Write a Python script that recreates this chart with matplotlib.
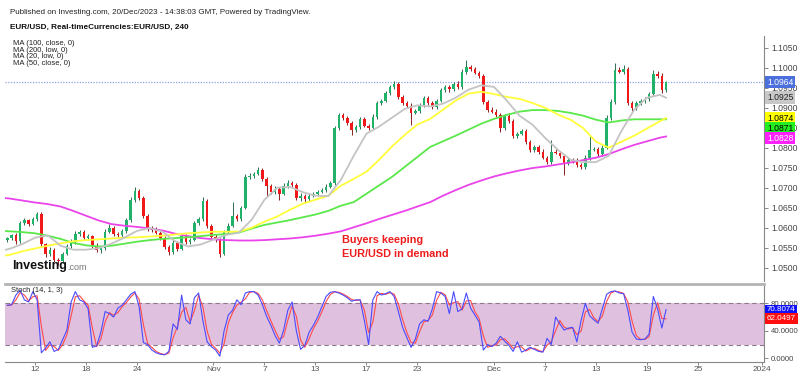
import numpy as np
import pandas as pd
import matplotlib
matplotlib.use("Agg")
import matplotlib.pyplot as plt
from matplotlib.transforms import blended_transform_factory

plt.rcParams['font.family'] = ['Liberation Sans', 'DejaVu Sans']

W, H = 800, 376

# --- data: 8h candles, x = trading days counted from Oct 12 00:00 ---
first_open = 1.0570
closes = [1.0574,
          1.0581, 1.0566, 1.0612,   # Oct 10
          1.0619, 1.0610, 1.0622,   # Oct 11
          1.0635, 1.0560, 1.0535,   # Oct 12
          1.0545, 1.0520, 1.0518,   # Oct 13
          1.0535, 1.0555, 1.0565,   # Oct 16
          1.0585, 1.0590, 1.0575,
          1.0580, 1.0555, 1.0545,
          1.0550, 1.0590, 1.0600,
          1.0585, 1.0582, 1.0592,
          1.0620, 1.0670, 1.0692,   # Oct 23
          1.0675, 1.0630, 1.0600,
          1.0595, 1.0588, 1.0575,
          1.0552, 1.0540, 1.0562,
          1.0548, 1.0580, 1.0565,
          1.0570, 1.0612, 1.0622,   # Oct 30
          1.0668, 1.0605, 1.0578,
          1.0570, 1.0535, 1.0590,   # Nov 1
          1.0605, 1.0630, 1.0622,
          1.0650, 1.0728, 1.0730,
          1.0735, 1.0745, 1.0722,   # Nov 6
          1.0705, 1.0690, 1.0698,
          1.0685, 1.0705, 1.0712,
          1.0708, 1.0675, 1.0680,
          1.0672, 1.0680, 1.0685,
          1.0690, 1.0695, 1.0703,   # Nov 13
          1.0712, 1.0850, 1.0882,
          1.0875, 1.0862, 1.0845,
          1.0852, 1.0872, 1.0855,
          1.0850, 1.0878, 1.0912,
          1.0918, 1.0938, 1.0952,   # Nov 20
          1.0960, 1.0928, 1.0912,
          1.0905, 1.0888, 1.0892,
          1.0907, 1.0925, 1.0912,
          1.0903, 1.0918, 1.0944,
          1.0952, 1.0946, 1.0960,   # Nov 27
          1.0952, 1.0990, 1.1002,
          1.0998, 1.0988, 1.0980,
          1.0915, 1.0895, 1.0890,
          1.0882, 1.0850, 1.0880,   # Dec 1
          1.0868, 1.0830, 1.0835,   # Dec 4
          1.0842, 1.0815, 1.0795,
          1.0802, 1.0790, 1.0775,
          1.0765, 1.0790, 1.0788,
          1.0780, 1.0762, 1.0770,
          1.0768, 1.0758, 1.0752,   # Dec 11
          1.0775, 1.0795, 1.0798,
          1.0785, 1.0800, 1.0875,
          1.0915, 1.0995, 1.0990,
          1.0998, 1.0912, 1.0900,
          1.0912, 1.0918, 1.0922,   # Dec 18
          1.0935, 1.0985, 1.0980,
          1.0944, 1.0964]           # Dec 20

# wick lengths in pips above / below the body
wick_up = [4,
           3, 5, 6, 5, 4, 6, 5, 4, 3, 6, 4, 5, 4, 5, 6, 8, 5, 4, 5, 3, 6,
           4, 8, 10, 5, 4, 6, 5, 8, 10, 6, 4, 5, 5, 6, 4, 4, 6, 8, 5, 7, 4,
           5, 6, 5, 8, 5, 4, 6, 4, 5, 6, 35, 5, 5, 6, 8, 5, 6, 4, 4, 5, 6,
           5, 6, 8, 5, 4, 6, 5, 4, 5, 4, 5, 6, 5, 4, 6, 5, 4, 5, 4, 5, 6,
           5, 6, 4, 5, 4, 6, 8, 4, 5, 5, 6, 4, 5, 4, 5, 6, 5, 6, 5, 6, 5,
           6, 8, 17, 6, 5, 4, 5, 4, 6, 8, 5, 4, 6, 5, 4, 5, 6, 4, 5, 4, 6,
           5, 29, 6, 5, 4, 6, 5, 6, 4, 8, 36, 5, 5, 6, 8, 6, 17, 6, 8, 5, 4,
           6, 5, 4, 5, 10, 6, 6, 4]
wick_dn = [5,
           4, 6, 5, 5, 6, 4, 5, 6, 8, 6, 5, 12, 5, 4, 6, 5, 6, 4, 5, 6, 5,
           8, 5, 4, 6, 5, 4, 4, 5, 6, 5, 6, 8, 5, 4, 6, 6, 8, 5, 6, 4, 5,
           5, 4, 5, 4, 6, 5, 5, 9, 4, 5, 4, 6, 5, 4, 6, 5, 4, 6, 25, 6, 5,
           16, 4, 5, 5, 6, 8, 10, 5, 4, 5, 4, 6, 4, 6, 5, 6, 5, 14, 5, 6, 4,
           5, 4, 6, 5, 4, 5, 5, 6, 4, 5, 31, 4, 5, 6, 4, 5, 6, 4, 5, 6, 5,
           4, 5, 6, 5, 4, 6, 6, 5, 4, 5, 10, 6, 5, 6, 5, 4, 6, 5, 5, 6, 4,
           6, 5, 4, 5, 31, 5, 6, 5, 4, 5, 6, 4, 5, 6, 4, 6, 5, 4, 5, 6, 8,
           5, 4, 6, 5, 4, 6, 6, 5]

# Stochastic %K, one value per candle
stoch_k = [77,
           78, 92, 99, 85, 82, 97, 85, 8, 15, 24, 10, 13, 27, 41, 82,
           97, 85, 82, 72, 16, 18, 38, 68, 65, 60, 73, 77, 85, 93, 97,
           75, 23, 20, 12, 8, 6, 5, 10, 50, 42, 92, 56, 50, 88, 95,
           55, 24, 17, 12, 3, 40, 63, 70, 85, 78, 95, 97, 97, 92, 78,
           61, 48, 33, 22, 41, 70, 82, 40, 13, 19, 38, 48, 60, 75, 90,
           96, 97, 95, 92, 88, 83, 85, 85, 55, 20, 85, 97, 92, 94, 97,
           90, 68, 45, 30, 16, 28, 50, 56, 54, 72, 97, 95, 90, 65, 97,
           68, 72, 95, 73, 63, 53, 12, 20, 17, 22, 32, 25, 19, 10, 24,
           9, 12, 16, 13, 10, 9, 29, 20, 60, 50, 41, 44, 45, 24, 55,
           80, 62, 56, 51, 72, 93, 97, 98, 95, 94, 70, 38, 28, 27, 28,
           35, 90, 72, 44, 70.8074]

# moving averages, one reading per trading day
ma_days = list(range(-3, 50)) + [49.5]
ma20_low = [1.0540, 1.0547, 1.0559, 1.0575, 1.0581, 1.0555, 1.0545, 1.0545,
            1.0549, 1.0560, 1.0575, 1.0592, 1.0599, 1.0590, 1.0566, 1.0553,
            1.0558, 1.0570, 1.0582, 1.0588, 1.0620, 1.0670, 1.0700, 1.0702,
            1.0689, 1.0680, 1.0679, 1.0720, 1.0780, 1.0835, 1.0853, 1.0875,
            1.0897, 1.0906, 1.0903, 1.0910, 1.0925, 1.0945, 1.0956, 1.0952,
            1.0918, 1.0880, 1.0858, 1.0825, 1.0795, 1.0770, 1.0764, 1.0764,
            1.0780, 1.0842, 1.0895, 1.0925, 1.0932, 1.0925]
ma50_close = [1.0527, 1.0532, 1.0541, 1.0548, 1.0555, 1.0561, 1.0566, 1.0569,
              1.0571, 1.0573, 1.0575, 1.0576, 1.0578, 1.0580, 1.0583, 1.0586,
              1.0588, 1.0590, 1.0590, 1.0590, 1.0600, 1.0615, 1.0628, 1.0645,
              1.0660, 1.0670, 1.0680, 1.0705, 1.0722, 1.0740, 1.0770, 1.0803,
              1.0832, 1.0858, 1.0872, 1.0895, 1.0918, 1.0935, 1.0940, 1.0934,
              1.0927, 1.0922, 1.0912, 1.0900, 1.0883, 1.0870, 1.0849, 1.0815,
              1.0800, 1.0815, 1.0830, 1.0848, 1.0866, 1.0874]
ma100_close = [1.0593, 1.0591, 1.0589, 1.0586, 1.0580, 1.0572, 1.0562, 1.0556,
               1.0553, 1.0555, 1.0560, 1.0565, 1.0569, 1.0572, 1.0574, 1.0576,
               1.0579, 1.0582, 1.0584, 1.0588, 1.0598, 1.0607, 1.0613, 1.0619,
               1.0626, 1.0633, 1.0642, 1.0655, 1.0664, 1.0685, 1.0706, 1.0727,
               1.0752, 1.0777, 1.0802, 1.0816, 1.0830, 1.0845, 1.0860, 1.0872,
               1.0882, 1.0890, 1.0894, 1.0894, 1.0892, 1.0887, 1.0880, 1.0870,
               1.0863, 1.0868, 1.0871, 1.0871, 1.0871, 1.0871]
ma200_low = [1.0676, 1.0673, 1.0668, 1.0663, 1.0659, 1.0653, 1.0642, 1.0630,
             1.0618, 1.0609, 1.0605, 1.0602, 1.0598, 1.0593, 1.0585, 1.0579,
             1.0574, 1.0571, 1.0569, 1.0568, 1.0568, 1.0569, 1.0571, 1.0573,
             1.0576, 1.0580, 1.0585, 1.0591, 1.0601, 1.0611, 1.0622, 1.0632,
             1.0642, 1.0653, 1.0664, 1.0680, 1.0694, 1.0707, 1.0718, 1.0728,
             1.0736, 1.0743, 1.0749, 1.0753, 1.0758, 1.0763, 1.0769, 1.0775,
             1.0784, 1.0796, 1.0807, 1.0816, 1.0825, 1.0828]

tick_days = [0, 4, 8, 14, 18, 22, 26, 30, 36, 40, 44, 48, 52, 57]
tick_labels = ['12', '18', '24', 'Nov', '7', '13', '17', '23', 'Dec', '7',
               '13', '19', '25', '2024']

last_price = 1.0964
last_k, last_d = 70.8074, 62.0497

GREEN, RED = '#21b26a', '#f01818'
C_MA20, C_MA50, C_MA100, C_MA200 = '#c4c4c4', '#ffff3a', '#5ae84a', '#ea44ea'

# --- figure ---
fig = plt.figure(figsize=(W / 100, H / 100), dpi=100)
ax = fig.add_axes([5 / W, 1 - 281 / H, 759 / W, 245 / H])
axs = fig.add_axes([5 / W, 1 - 362 / H, 759 / W, 78 / H])
xlim = (-2.353, 57.18)

n = len(closes)
xs = -13 / 6 + np.arange(n) / 3
c = np.array(closes)
o = np.r_[first_open, c[:-1]]
hi = np.maximum(o, c) + np.array(wick_up) * 1e-4
lo = np.minimum(o, c) - np.array(wick_dn) * 1e-4
up = c >= o

ax.vlines(xs, lo, hi, colors=np.where(up, '#2e6e50', '#8a2020'), lw=0.7, zorder=2)
ax.bar(xs, np.maximum(np.abs(c - o), 0.0001), bottom=np.minimum(o, c), width=0.2,
       color=np.where(up, GREEN, RED), lw=0, zorder=3)

for vals, col in [(ma200_low, C_MA200), (ma100_close, C_MA100),
                  (ma50_close, C_MA50), (ma20_low, C_MA20)]:
    ax.plot(ma_days, vals, color=col, lw=1.3, zorder=4)

ax.axhline(last_price, color='#8aa4ea', lw=0.9, ls=(0, (1, 1.2)), zorder=1)

ax.set_xlim(*xlim)
ax.set_ylim(1.046675, 1.107925)
ax.set_xticks([])
ax.yaxis.tick_right()
ax.set_yticks(np.arange(1.05, 1.1051, 0.005))
ax.yaxis.set_major_formatter(plt.FormatStrFormatter('%.4f'))
ax.tick_params(axis='y', labelsize=6.2, labelcolor='#444444', color='#888888',
               length=3, pad=2, width=0.7)
for s in ['left', 'top', 'bottom']:
    ax.spines[s].set_visible(False)
ax.spines['right'].set_color('#888888')
ax.spines['right'].set_linewidth(0.8)


def side_labels(axis, items, gap, fs=6.2):
    tr = blended_transform_factory(axis.transAxes, axis.transData)
    prev = None
    for val, bg, fg, txt in sorted(items, key=lambda t: -t[0]):
        pos = val if prev is None else min(val, prev - gap)
        prev = pos
        axis.text(1.004, pos, txt, transform=tr, fontsize=fs, color=fg,
                  va='center', ha='left', clip_on=False, zorder=10,
                  bbox=dict(boxstyle='square,pad=0.2', fc=bg, ec='none'))


side_labels(ax, [(last_price, '#4b6fdc', 'white', f'{last_price:.4f}'),
                 (ma20_low[-1], '#c8c8c8', '#222222', f'{ma20_low[-1]:.4f}'),
                 (ma50_close[-1], '#ffff00', 'black', f'{ma50_close[-1]:.4f}'),
                 (ma100_close[-1], '#22ee22', 'black', f'{ma100_close[-1]:.4f}'),
                 (ma200_low[-1], '#ff22ff', 'white', f'{ma200_low[-1]:.4f}')],
            gap=0.0025)

# --- stochastic pane ---
k = pd.Series(stoch_k)
d = k.rolling(2, min_periods=1).mean()
axs.axhspan(20, 80, color='#dfc1df', lw=0, zorder=0)
for lvl in (20, 80):
    axs.axhline(lvl, color='#8c7a8c', lw=0.8, ls=(0, (4, 3)), zorder=1)
axs.plot(xs, d, color='#ff4a4a', lw=0.8, zorder=3)
axs.plot(xs, k, color='#4a4aff', lw=0.8, zorder=4)
axs.set_xlim(*xlim)
axs.set_ylim(-5.38, 108.07)
axs.yaxis.tick_right()
axs.set_yticks([0, 40, 80])
axs.yaxis.set_major_formatter(plt.FormatStrFormatter('%.4f'))
axs.tick_params(axis='y', labelsize=5.6, labelcolor='#444444', color='#888888',
                length=3, pad=2, width=0.7)
axs.set_xticks(tick_days)
axs.set_xticklabels(tick_labels)
axs.tick_params(axis='x', labelsize=6, labelcolor='#555555', color='#888888',
                length=2, pad=0.8, width=0.7)
axs.spines['left'].set_visible(False)
axs.spines['top'].set_color('#b4b4b4')
axs.spines['top'].set_linewidth(2)
for s in ['right', 'bottom']:
    axs.spines[s].set_color('#888888')
    axs.spines[s].set_linewidth(0.8)

side_labels(axs, [(last_k, '#1010ff', 'white', f'{last_k:.4f}'),
                  (last_d, '#ff1010', 'white', f'{last_d:.4f}')], gap=13, fs=5.8)

# --- texts ---
def px(x, y):
    return x / W, 1 - y / H


fig.text(*px(10, 12), 'Published on Investing.com, 20/Dec/2023 - 14:38:03 GMT, Powered by TradingView.',
         fontsize=5.8, va='center', color='#222222')
fig.text(*px(10, 27), 'EUR/USD, Real-timeCurrencies:EUR/USD, 240',
         fontsize=5.9, va='center', weight='bold', color='#111111')
for i, t in enumerate(['MA (100, close, 0)', 'MA (200, low, 0)',
                       'MA (20, low, 0)', 'MA (50, close, 0)']):
    fig.text(*px(13, 43.5 + 6.7 * i), t, fontsize=5.5, va='center', color='#222222')

fig.text(*px(11, 291), 'Stoch (14, 1, 3)', fontsize=5.4, va='center', color='#222222')
fig.text(*px(12, 266), 'Investing', fontsize=9, weight='bold', va='center', color='#111111')
fig.text(*px(67, 267.5), '.com', fontsize=6.5, va='center', color='#777777')

fig.text(*px(342, 240), 'Buyers keeping', fontsize=7.8, weight='bold',
         va='center', color='#ee1c1c')
fig.text(*px(342, 254), 'EUR/USD in demand', fontsize=7.8, weight='bold',
         va='center', color='#ee1c1c')

fig.savefig('out.png', dpi=100, facecolor='white')
